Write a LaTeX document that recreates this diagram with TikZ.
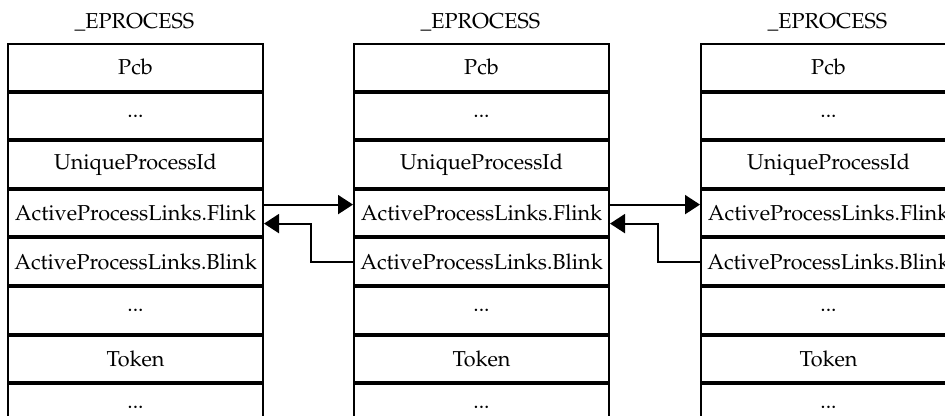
\documentclass[tikz,border=0pt]{standalone}
\usepackage[T1]{fontenc}
\usepackage{mathpazo}
\usetikzlibrary{arrows.meta,positioning}
\tikzset{field/.style={draw,line width=1pt,minimum width=127.5pt,minimum height=23.3pt,
 inner sep=0pt,font=\fontsize{10.8}{13}\selectfont},
 title/.style={font=\fontsize{10.8}{13}\selectfont},
 linkarrow/.style={-{Triangle[length=7.5pt,width=9.5pt]},line width=1pt}}

\begin{document}
\begin{tikzpicture}[x=0.5pt,y=-0.5pt,node distance=0pt]
\useasboundingbox (0,0) rectangle (945,416);
\clip (0,0) rectangle (945,416);
\foreach \c/\x in {A/7,B/353,C/700}{
 \node[title] (title\c) at (\x+127.5,22) {\_EPROCESS};
 \node[field,anchor=north west] (pcb\c) at (\x,43) {Pcb};
 \node[field,below=of pcb\c] (dotsa\c) {...};
 \node[field,below=of dotsa\c] (pid\c) {UniqueProcessId};
 \node[field,below=of pid\c] (flink\c) {ActiveProcessLinks.Flink};
 \node[field,below=of flink\c] (blink\c) {ActiveProcessLinks.Blink};
 \node[field,below=of blink\c] (dotsb\c) {...};
 \node[field,below=of dotsb\c] (token\c) {Token};
 \node[field,below=of token\c] (dotsc\c) {...};
}
% forward and backward links
\draw[linkarrow] ([yshift=4.25pt]flinkA.east)--([yshift=4.25pt]flinkB.west);
\draw[linkarrow] (blinkB.west)--++(-21pt,0)|-([yshift=-5.25pt]flinkA.east);
\draw[linkarrow] ([yshift=4.25pt]flinkB.east)--([yshift=4.25pt]flinkC.west);
\draw[linkarrow] (blinkC.west)--++(-21pt,0)|-([yshift=-5.25pt]flinkB.east);
\end{tikzpicture}
\end{document}
